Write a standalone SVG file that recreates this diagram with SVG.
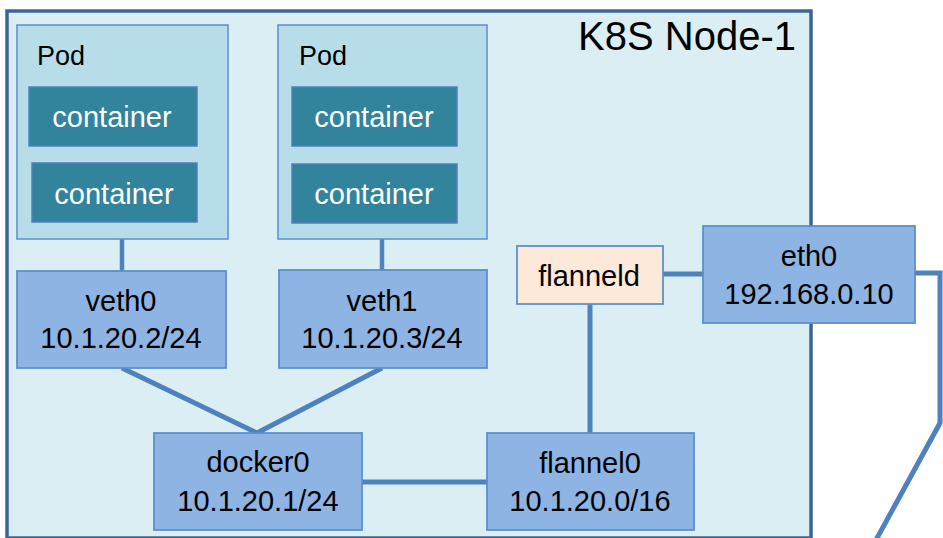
<svg xmlns="http://www.w3.org/2000/svg" width="943" height="538" viewBox="0 0 943 538">
<style>
text{font-family:"Liberation Sans",Arial,sans-serif;fill:#000;text-anchor:middle}
.pod{fill:#b7dde8;stroke:#5b8fcb;stroke-width:1.5}
.ctr{fill:#31849b;stroke:#4f81bd;stroke-width:1.5}
.ctrt{fill:#fff;font-size:29px}
.box{fill:#8eb4e3;stroke:#5b8fcb;stroke-width:1.8}
.lbl{font-size:29px}
.conn{stroke:#4f81bd;stroke-width:5;fill:none;stroke-linejoin:miter}
</style>
<rect width="943" height="538" fill="#fff"/>
<g id="k8s-node-1">
<rect x="7" y="11" width="804" height="527" fill="#dbeef4" stroke="#3d6594" stroke-width="3.5"/>
<text x="687" y="50" style="font-size:40px">K8S Node-1</text>
</g>
<g id="connectors">
<line class="conn" x1="122" y1="239" x2="122" y2="271" style="stroke-width:4.5"/>
<line class="conn" x1="382" y1="239" x2="382" y2="271" style="stroke-width:4.5"/>
<polyline class="conn" points="122,368 257,433 382,368"/>
<line class="conn" x1="362" y1="482" x2="487" y2="482"/>
<line class="conn" x1="590" y1="304" x2="590" y2="433"/>
<line class="conn" x1="663" y1="274" x2="703" y2="274"/>
<polyline class="conn" points="915,273 940,273 940,423 876,540"/>
</g>
<g id="pod1">
<rect class="pod" x="17" y="25" width="211" height="214"/>
<text x="37" y="65" style="font-size:27px;text-anchor:start">Pod</text>
</g>
<g id="pod1-container1">
<rect class="ctr" x="29" y="87" width="168" height="59"/>
<text class="ctrt" x="112" y="127">container</text>
</g>
<g id="pod1-container2">
<rect class="ctr" x="32" y="163" width="165" height="59"/>
<text class="ctrt" x="114" y="204">container</text>
</g>
<g id="pod2">
<rect class="pod" x="278" y="25" width="209" height="214"/>
<text x="299" y="65" style="font-size:27px;text-anchor:start">Pod</text>
</g>
<g id="pod2-container1">
<rect class="ctr" x="292" y="87" width="165" height="59"/>
<text class="ctrt" x="374" y="127">container</text>
</g>
<g id="pod2-container2">
<rect class="ctr" x="292" y="164" width="165" height="59"/>
<text class="ctrt" x="374" y="204">container</text>
</g>
<g id="veth0">
<rect class="box" x="17" y="271" width="209" height="97"/>
<text class="lbl" x="121" y="311">veth0</text>
<text class="lbl" x="121" y="348">10.1.20.2/24</text>
</g>
<g id="veth1">
<rect class="box" x="279" y="270" width="208" height="98"/>
<text class="lbl" x="382" y="311">veth1</text>
<text class="lbl" x="382" y="348">10.1.20.3/24</text>
</g>
<g id="docker0">
<rect class="box" x="154" y="433" width="208" height="97"/>
<text class="lbl" x="258" y="472">docker0</text>
<text class="lbl" x="258" y="511">10.1.20.1/24</text>
</g>
<g id="flannel0">
<rect class="box" x="487" y="433" width="207" height="97"/>
<text class="lbl" x="590" y="473">flannel0</text>
<text class="lbl" x="590" y="511">10.1.20.0/16</text>
</g>
<g id="flanneld">
<rect x="517" y="246" width="146" height="58" fill="#fde9d9" stroke="#5b8fcb" stroke-width="1.8"/>
<text class="lbl" x="589" y="286">flanneld</text>
</g>
<g id="eth0">
<rect class="box" x="703" y="226" width="212" height="97"/>
<text class="lbl" x="809" y="266">eth0</text>
<text class="lbl" x="809" y="304">192.168.0.10</text>
</g>
</svg>
